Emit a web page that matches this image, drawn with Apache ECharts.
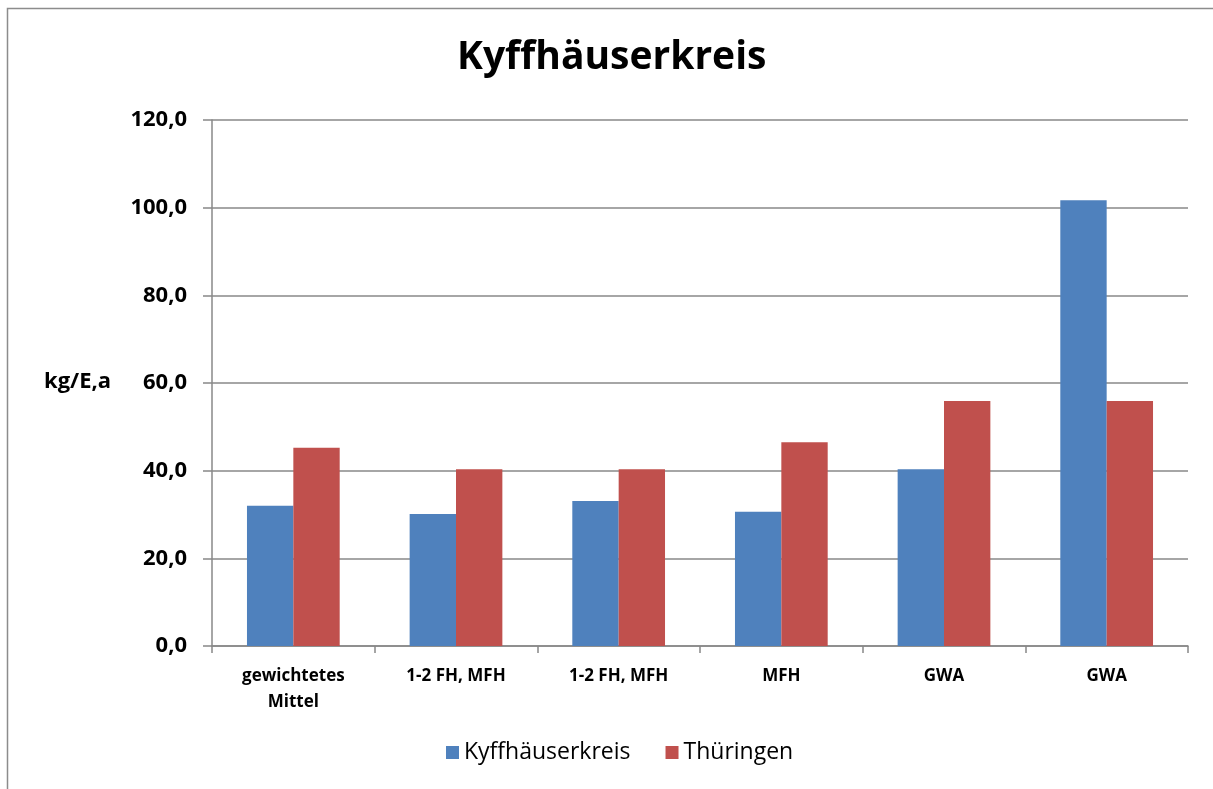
<!DOCTYPE html>
<html>
<head>
<meta charset="utf-8">
<script src="https://cdn.jsdelivr.net/npm/echarts@6/dist/echarts.min.js"></script>
<style>
html,body{margin:0;padding:0;background:#fff;}
#chart{width:1213px;height:789px;}
</style>
</head>
<body>
<div id="chart"></div>
<script>
const titleText = 'Kyffhäuserkreis';
const yAxisName = 'kg/E,a';
const categories = ['gewichtetes\nMittel', '1-2 FH, MFH', '1-2 FH, MFH', 'MFH', 'GWA', 'GWA'];
const seriesNames = ['Kyffhäuserkreis', 'Thüringen'];
const kyffhaeuserkreis = [32.0, 30.1, 33.1, 30.6, 40.3, 101.7];
const thueringen = [45.2, 40.3, 40.3, 46.5, 55.9, 55.9];
const yMin = 0, yMax = 120, yStep = 20;

const FONT = '"Open Sans", "Noto Sans", sans-serif';
const chart = echarts.init(document.getElementById('chart'), null, {renderer: 'canvas'});
chart.setOption({
  animation: false,
  backgroundColor: '#ffffff',
  color: ['#4F81BD', '#C0504D'],
  title: {
    text: titleText,
    left: 452,
    top: 33,
    textStyle: {fontFamily: FONT, fontSize: 39, fontWeight: 'bold', color: '#000'}
  },
  graphic: [
    {type: 'rect', shape: {x: 7.5, y: 8.5, width: 1400, height: 1000}, style: {fill: 'none', stroke: '#8c8c8c', lineWidth: 1.5}, z: -1},
    {type: 'text', left: 44, top: 371, style: {text: yAxisName, fontFamily: FONT, fontSize: 22, fontWeight: 'bold', fill: '#000'}}
  ],
  legend: {
    bottom: 20,
    left: 441,
    itemWidth: 13,
    itemHeight: 13,
    itemGap: 35,
    icon: 'rect',
    textStyle: {fontFamily: FONT, fontSize: 23, color: '#000'},
    data: seriesNames
  },
  grid: {left: 212, right: 25, top: 120, bottom: 143, containLabel: false},
  xAxis: {
    type: 'category',
    data: categories,
    axisLine: {lineStyle: {color: '#888', width: 1.5}},
    axisTick: {show: true, length: 7, alignWithLabel: false, lineStyle: {color: '#888', width: 1.5}},
    axisLabel: {fontFamily: FONT, fontSize: 17, fontWeight: 'bold', color: '#000', margin: 17, lineHeight: 26, interval: 0}
  },
  yAxis: {
    type: 'value',
    min: yMin, max: yMax, interval: yStep,
    axisLine: {show: true, lineStyle: {color: '#888', width: 1.5}},
    axisTick: {show: true, length: 9, lineStyle: {color: '#888', width: 1.5}},
    splitLine: {show: true, lineStyle: {color: '#888', width: 1.5}},
    axisLabel: {fontFamily: FONT, fontSize: 22, fontWeight: 'bold', color: '#000', margin: 25,
      formatter: v => v.toFixed(1).replace('.', ',')}
  },
  series: [
    {name: seriesNames[0], type: 'bar', data: kyffhaeuserkreis, barGap: '0%', barCategoryGap: '43%'},
    {name: seriesNames[1], type: 'bar', data: thueringen, barGap: '0%', barCategoryGap: '43%'}
  ]
});
</script>
</body>
</html>
